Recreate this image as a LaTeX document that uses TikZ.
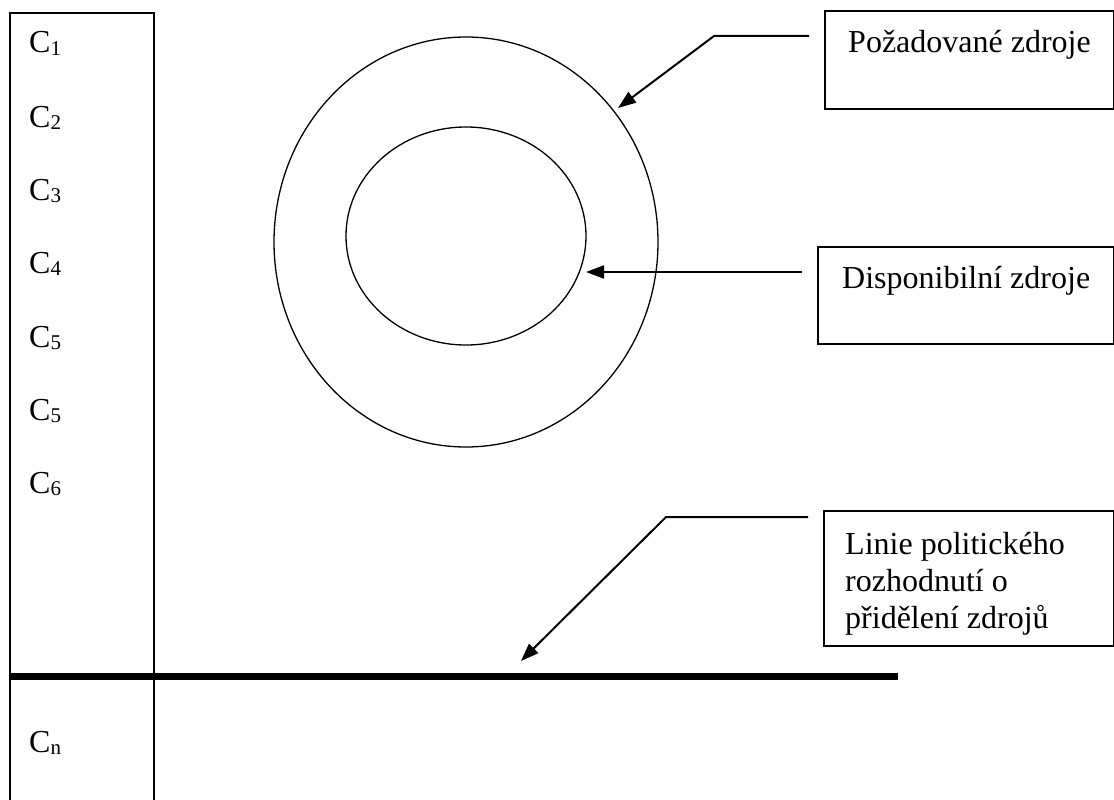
\documentclass[tikz,border=0pt]{standalone}
\usepackage{fontspec}
\setmainfont{Liberation Serif}
\usetikzlibrary{shapes.geometric,arrows.meta,calc}
\newcommand\csub[1]{\raisebox{-2.5pt}{\fontsize{21}{21}\selectfont #1}}
\begin{document}
\begin{tikzpicture}[x=1pt,y=-1pt,
  lbl/.style={anchor=base west,inner sep=0,font=\fontsize{32}{37}\selectfont},
  callout/.style={draw,line width=1.8pt,inner sep=0,anchor=north west},
  ring/.style={draw,ellipse,line width=1.3pt,inner sep=0},
  ptr/.style={line width=2pt,-{Triangle[length=18pt,width=13pt]}},
  col/.style={line width=1.4pt},
  policy/.style={line width=7pt}]
\useasboundingbox (0,0) rectangle (1114,800);
% left column
\draw[col] (10,800) -- (10,13) -- (154,13) -- (154,800);
\coordinate (pl) at (10,676);
\coordinate (pr) at (898,676);
\draw[policy] (pl) -- (pr);
% labels
\node[lbl] (c1) at (29,53) {C\csub{1}};
\node[lbl] (c2) at (29,127) {C\csub{2}};
\node[lbl] (c3) at (29,200) {C\csub{3}};
\node[lbl] (c4) at (29,273) {C\csub{4}};
\node[lbl] (c5) at (29,347) {C\csub{5}};
\node[lbl] (c5b) at (29,420) {C\csub{5}};
\node[lbl] (c6) at (29,493) {C\csub{6}};
\node[lbl] (cn) at (29,752) {C\csub{n}};
% ellipses
\node[ring,minimum width=384pt,minimum height=410pt] (outer) at (466,242) {};
\node[ring,minimum width=240pt,minimum height=218pt] (inner) at (466,236) {};
% boxes
\node[callout,minimum width=289pt,minimum height=98pt] (b1) at (824,10) {};
\node[callout,minimum width=296pt,minimum height=97pt] (b2) at (817,246) {};
\node[callout,minimum width=290pt,minimum height=135pt] (b3) at (823,510) {};
\node[lbl] (t1) at (848,53) {Požadované zdroje};
\node[lbl] (t2) at (842,288) {Disponibilní zdroje};
\node[lbl] (t3a) at (845,554) {Linie politického};
\node[lbl] (t3b) at (845,591) {rozhodnutí o};
\node[lbl] (t3c) at (845,628) {přidělení zdrojů};
% arrow tips
\coordinate (e1) at (618,108);
\coordinate (e2) at (586,272);
\coordinate (e3) at (521,661);
% connectors
\draw[ptr] ($(b1.north west)+(-15,26)$) -- ++(-95,0) -- (e1);
\draw[ptr] ($(b2.north west)+(-15,26)$) -- (e2);
\draw[ptr] ($(b3.north west)+(-15,7)$) -- (666,517) -- (e3);
\end{tikzpicture}
\end{document}
